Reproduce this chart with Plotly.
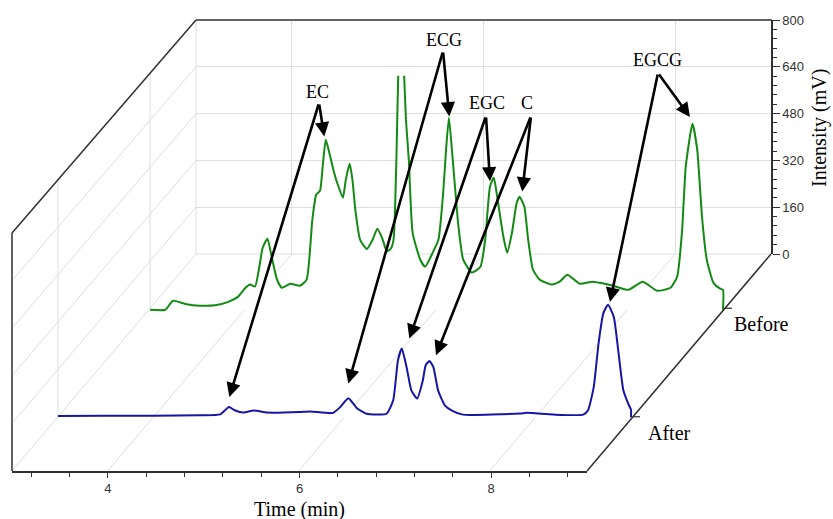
import plotly.graph_objects as go

# ---------------- data ----------------
before_time = [3.00, 3.16, 3.24, 3.37, 3.52, 3.68, 3.82, 3.92, 4.00, 4.05, 4.10, 4.14, 4.18, 4.23,
               4.27, 4.33, 4.38, 4.47, 4.57, 4.64, 4.70, 4.74, 4.78, 4.81, 4.84, 4.87, 4.92, 4.96,
               5.02, 5.05, 5.09, 5.12, 5.15, 5.20, 5.27, 5.33, 5.38, 5.43, 5.48, 5.52, 5.55, 5.58,
               5.60, 5.63, 5.66, 5.68, 5.71, 5.75, 5.83, 5.88, 5.96, 6.02, 6.07, 6.10, 6.13, 6.17,
               6.23, 6.28, 6.37, 6.46, 6.51, 6.56, 6.60, 6.64, 6.70, 6.74, 6.79, 6.84, 6.87, 6.92,
               6.96, 7.01, 7.08, 7.21, 7.29, 7.37, 7.50, 7.63, 7.71, 7.85, 8.01, 8.16, 8.31, 8.45,
               8.52, 8.57, 8.61, 8.68, 8.73, 8.78, 8.83, 8.90, 8.97, 9.00, 9.00]
before_int = [0, 0, 31, 20, 14, 15, 27, 44, 75, 86, 79, 137, 212, 243,
              188, 103, 75, 89, 82, 103, 308, 393, 407, 496, 581, 547, 479, 434,
              383, 444, 499, 444, 342, 239, 208, 239, 277, 246, 200, 208, 239, 513,
              810, 1000, 810, 650, 513, 263, 171, 147, 195, 239, 400, 547, 656, 513,
              284, 171, 127, 147, 239, 421, 451, 376, 250, 195, 263, 366, 386, 352,
              239, 137, 103, 86, 96, 120, 89, 96, 92, 82, 68, 96, 65, 75,
              113, 263, 489, 636, 547, 318, 171, 92, 72, 68, 0]

after_time = [3.00, 3.50, 4.00, 4.49, 4.70, 4.79, 4.85, 4.94, 5.05, 5.19, 5.53, 5.64, 5.88, 5.95,
              6.04, 6.13, 6.23, 6.44, 6.51, 6.56, 6.60, 6.65, 6.70, 6.76, 6.82, 6.85, 6.89, 6.93,
              6.98, 7.05, 7.13, 7.24, 7.84, 7.91, 8.19, 8.50, 8.55, 8.61, 8.66, 8.71, 8.76, 8.82,
              8.87, 8.92, 8.97, 9.00, 9.00]
after_int = [4, 5, 5, 7, 10, 35, 24, 16, 23, 16, 18, 20, 15, 33,
             65, 31, 12, 12, 58, 195, 235, 171, 92, 64, 126, 178, 192, 172,
             92, 41, 22, 9, 13, 15, 9, 9, 24, 104, 252, 355, 385, 343,
             218, 92, 47, 26, 0]

series_names = ["Before", "After"]
series_depth = [0.75, 0.25]

peak_labels = ["EC", "ECG", "EGC", "C", "EGCG"]
before_peak_time = [4.825, 6.134, 6.56, 6.898, 8.654]
before_peak_int = [592, 661, 439, 404, 659]
after_peak_time = [4.794, 6.040, 6.679, 6.958, 8.780]
after_peak_int = [69, 115, 269, 212, 394]

time_ticks = [4, 6, 8]
int_ticks = [0, 160, 320, 480, 640, 800]

# ---------------- geometry / style ----------------
W, H = 833, 519
FL, FR, FB, FT = 12, 587, 471, 233      # front face (pixels)
BL, BR, BB, BT = 196, 771, 254, 20      # back face (pixels)
DX, DY = 184, 215                       # depth offset of the box
PXM = 95.5                              # pixels per minute
K = 0.2925                              # pixels per mV
T0, T1, Z1 = 3.0, 9.0, 800.0
GRID = "#dedede"
DARK = "#303030"
GREEN = "#138a13"
BLUE = "#1616a6"
SERIF = "Liberation Serif"
SANS = "Liberation Sans"


def fx(px):
    return px / W


def fy(py):
    return 1 - py / H


def trace_frame(d, pad_t=0.1, pad_z=30):
    x0 = FL + DX * d
    y0 = FB - DY * d
    xd = [fx(x0 - pad_t * PXM), fx(x0 + (T1 - T0 + pad_t) * PXM)]
    yd = [fy(y0 + pad_z * K), fy(y0 - Z1 * K)]
    return x0, y0, xd, yd, [T0 - pad_t, T1 + pad_t], [-pad_z, Z1]


gx0, gy0, gxd, gyd, gxr, gyr = trace_frame(series_depth[0])
bx0, by0, bxd, byd, bxr, byr = trace_frame(series_depth[1])

fig = go.Figure()
# back-face subplot (grid + intensity axis)
fig.add_trace(go.Scatter(x=[None], y=[None], xaxis="x", yaxis="y", showlegend=False, hoverinfo="skip"))
# Before (green)
fig.add_trace(go.Scatter(x=before_time, y=before_int, xaxis="x2", yaxis="y2", mode="lines",
                         name=series_names[0], line=dict(color=GREEN, width=2, shape="spline", smoothing=0.5),
                         fill="tozeroy", fillcolor="white", showlegend=False))
# After (blue)
fig.add_trace(go.Scatter(x=after_time, y=after_int, xaxis="x3", yaxis="y3", mode="lines",
                         name=series_names[1], line=dict(color=BLUE, width=2, shape="spline", smoothing=0.5),
                         fill="tozeroy", fillcolor="white", showlegend=False))
# front time axis
fig.add_trace(go.Scatter(x=[None], y=[None], xaxis="x4", yaxis="y4", showlegend=False, hoverinfo="skip"))

tickfont = dict(family=SANS, size=13, color="#333")

fig.update_layout(
    width=W, height=H, autosize=False,
    margin=dict(l=0, r=0, t=0, b=0, pad=0, autoexpand=False),
    paper_bgcolor="white", plot_bgcolor="rgba(0,0,0,0)", showlegend=False,
    xaxis=dict(domain=[fx(BL), fx(BR)], range=[T0, T1], anchor="y", tickmode="array",
               tickvals=time_ticks, showticklabels=False, ticks="", showgrid=True,
               gridcolor=GRID, gridwidth=1, zeroline=False, showline=False, automargin=False),
    yaxis=dict(domain=[fy(BB), fy(BT)], range=[0, Z1], anchor="x", side="right",
               tickmode="linear", tick0=0, dtick=160, ticks="outside", ticklen=7, tickwidth=1.2,
               tickcolor=DARK, showline=True, linecolor=DARK, linewidth=1.5,
               showgrid=True, gridcolor=GRID, gridwidth=1, zeroline=False, tickfont=tickfont,
               automargin=False,
               minor=dict(dtick=32, tick0=0, ticks="outside", ticklen=4, tickcolor=DARK,
                          tickwidth=1, showgrid=False)),
    xaxis2=dict(domain=gxd, range=gxr, anchor="y2", visible=False, automargin=False),
    yaxis2=dict(domain=gyd, range=gyr, anchor="x2", visible=False, automargin=False),
    xaxis3=dict(domain=bxd, range=bxr, anchor="y3", visible=False, automargin=False),
    yaxis3=dict(domain=byd, range=byr, anchor="x3", visible=False, automargin=False),
    xaxis4=dict(domain=[fx(FL), fx(FR)], range=[T0, T1], anchor="y4", tickmode="linear",
                tick0=0, dtick=2, ticks="outside", ticklen=5, tickwidth=1.2, tickcolor=DARK,
                showline=True, linecolor=DARK, linewidth=1.5, showgrid=False, zeroline=False,
                tickfont=tickfont, automargin=False,
                minor=dict(dtick=0.4, tick0=0, ticks="outside", ticklen=4, tickcolor=DARK,
                           tickwidth=1, showgrid=False)),
    yaxis4=dict(domain=[fy(FB), fy(FT)], range=[0, Z1], anchor="x4", visible=False, automargin=False),
)

shapes = []


def seg(x0, y0, x1, y1, color, width, layer):
    shapes.append(dict(type="line", xref="paper", yref="paper", x0=fx(x0), y0=fy(y0),
                       x1=fx(x1), y1=fy(y1), line=dict(color=color, width=width), layer=layer))


# left wall: intensity grid lines
for z in int_ticks[:-1]:
    seg(FL, FB - z * (FB - FT) / Z1, BL, BB - z * (BB - BT) / Z1, GRID, 1, "below")
# left wall: depth grid lines
for d in series_depth:
    seg(FL + DX * d, FB - 217 * d, FL + DX * d, FT - 213 * d, GRID, 1, "below")
# floor: time grid lines
for t in time_ticks:
    seg(FL + (t - T0) * PXM, FB, BL + (t - T0) * (BR - BL) / (T1 - T0), BB, GRID, 1, "below")
# back-left and back-bottom edges (light)
seg(BL, BT, BL, BB, GRID, 1, "below")
seg(BL, BB, BR, BB, GRID, 1, "below")
# dark box edges
seg(FL, FT, FL, FB, DARK, 1.5, "above")
seg(FL, FT, BL, BT, DARK, 1.5, "above")
seg(BL, BT, BR + 1, BT, DARK, 1.5, "above")
seg(FR, FB, BR, BB, DARK, 1.5, "above")
# depth ticks
for d in series_depth:
    xd_, yd_ = FR + 184 * d, FB - 217 * d
    seg(xd_, yd_, xd_ + 7, yd_, DARK, 1.2, "above")

fig.update_layout(shapes=shapes)

annotations = []
# depth labels
for name, d in zip(series_names, series_depth):
    annotations.append(dict(xref="paper", yref="paper", x=fx(FR + 184 * d + 36), y=fy(FB - 217 * d + 16),
                            text=name, showarrow=False, xanchor="center", yanchor="middle",
                            font=dict(family=SERIF, size=20, color="black")))
# axis titles
annotations.append(dict(xref="paper", yref="paper", x=fx((FL + FR) / 2), y=fy(509), text="Time (min)",
                        showarrow=False, xanchor="center", yanchor="middle",
                        font=dict(family=SERIF, size=20, color="black")))
annotations.append(dict(xref="paper", yref="paper", x=fx(819), y=fy(128), text="Intensity (mV)",
                        textangle=-90, showarrow=False, xanchor="center", yanchor="middle",
                        font=dict(family=SERIF, size=20, color="black")))

# peak labels and arrows
label_pos = [(317, 92), (444, 40), (487, 103), (527, 103), (657, 60)]
tail_pos = [(319, 103), (443, 51), (486, 116), (531, 116), (658, 73)]
for i, lab in enumerate(peak_labels):
    lx, ly = label_pos[i]
    annotations.append(dict(xref="paper", yref="paper", x=fx(lx), y=fy(ly), text=lab, showarrow=False,
                            xanchor="center", yanchor="middle",
                            font=dict(family=SERIF, size=18, color="black")))
    tx, ty = tail_pos[i]
    for (t, z, x0, y0, xr, yr) in [
        (before_peak_time[i], before_peak_int[i], gx0, gy0, "x2", "y2"),
        (after_peak_time[i], after_peak_int[i], bx0, by0, "x3", "y3"),
    ]:
        px = x0 + (t - T0) * PXM
        py = y0 - z * K
        annotations.append(dict(xref=xr, yref=yr, x=t, y=z, text="", showarrow=True,
                                axref="pixel", ayref="pixel", ax=tx - px, ay=ty - py,
                                arrowhead=2, arrowsize=1.1, arrowwidth=2.6, arrowcolor="black",
                                standoff=0))

fig.update_layout(annotations=annotations)

fig.write_html("out.html", include_plotlyjs=True, config={"displayModeBar": False},
               post_script="document.body.style.margin='0';document.body.style.overflow='hidden';")
